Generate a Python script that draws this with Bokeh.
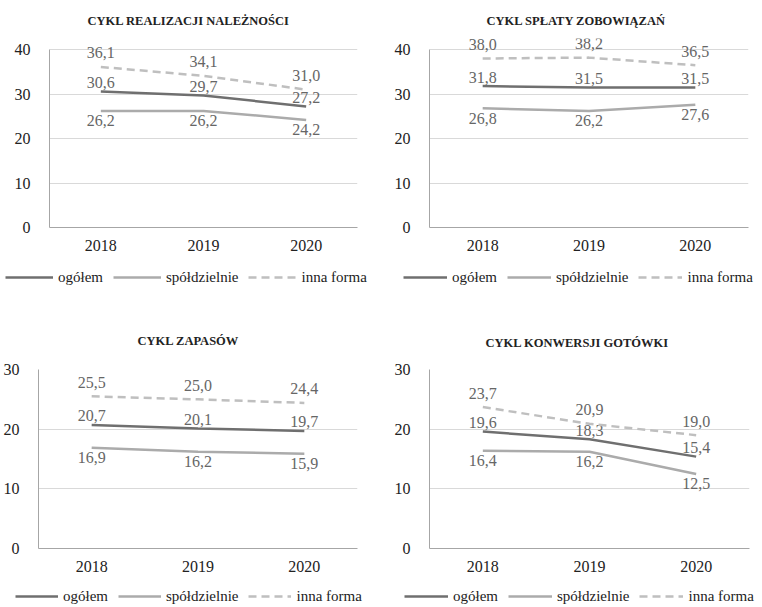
from bokeh.plotting import figure
from bokeh.layouts import column, row
from bokeh.models import FactorRange, Range1d, FixedTicker, Legend, LegendItem, ColumnDataSource
from bokeh.core.properties import value
from bokeh.embed import file_html
from bokeh.resources import INLINE

years = ["2018", "2019", "2020"]
series_names = ["ogółem", "spółdzielnie", "inna forma"]

titles = ["CYKL REALIZACJI NALEŻNOŚCI", "CYKL SPŁATY ZOBOWIĄZAŃ", "CYKL ZAPASÓW", "CYKL KONWERSJI GOTÓWKI"]

realizacja_ogolem = [30.6, 29.7, 27.2]
realizacja_spoldz = [26.2, 26.2, 24.2]
realizacja_inna = [36.1, 34.1, 31.0]

splata_ogolem = [31.8, 31.5, 31.5]
splata_spoldz = [26.8, 26.2, 27.6]
splata_inna = [38.0, 38.2, 36.5]

zapasy_ogolem = [20.7, 20.1, 19.7]
zapasy_spoldz = [16.9, 16.2, 15.9]
zapasy_inna = [25.5, 25.0, 24.4]

konwersja_ogolem = [19.6, 18.3, 15.4]
konwersja_spoldz = [16.4, 16.2, 12.5]
konwersja_inna = [23.7, 20.9, 19.0]

y_ticks_top = [0, 10, 20, 30, 40]
y_ticks_bottom = [0, 10, 20, 30]

FONT = "Liberation Serif"
COLORS = ["#6f6f6f", "#ababab", "#bfbfbf"]
DASHES = ["solid", "solid", "8 5"]
LABEL_OFFSETS = [-9, 10, -14]


def fmt(v):
    return f"{v:.1f}".replace(".", ",")


def make_panel(title, data, ticks, y_end, width, height, left, right, top, bottom,
               title_standoff, title_offset):
    p = figure(x_range=FactorRange(*years, range_padding=0), y_range=Range1d(ticks[0], y_end),
               width=width, height=height, output_backend="svg", toolbar_location=None,
               min_border_left=left, min_border_right=right, min_border_top=top, min_border_bottom=bottom)
    p.title.text = title
    p.title.text_font = FONT
    p.title.text_font_style = "bold"
    p.title.text_font_size = "12.5px"
    p.title.text_color = "#222222"
    p.title.align = "left"
    p.title.offset = title_offset
    p.title.standoff = title_standoff
    p.outline_line_color = None
    p.background_fill_color = "white"
    p.border_fill_color = "white"

    p.yaxis.ticker = FixedTicker(ticks=ticks)
    p.yaxis.bounds = (ticks[0], ticks[-1])
    for ax in (p.xaxis[0], p.yaxis[0]):
        ax.axis_line_color = "#a6a6a6"
        ax.major_tick_line_color = None
        ax.minor_tick_line_color = None
        ax.major_tick_out = 0
        ax.major_tick_in = 0
        ax.minor_tick_out = 0
        ax.major_label_text_font = FONT
        ax.major_label_text_font_size = "16px"
        ax.major_label_text_color = "#222222"
    p.yaxis.major_label_standoff = 19
    p.xaxis.major_label_standoff = 12
    p.xgrid.grid_line_color = None
    p.ygrid.grid_line_color = "#d9d9d9"
    p.ygrid.ticker = FixedTicker(ticks=ticks)

    for i, vals in enumerate(data):
        src = ColumnDataSource(dict(x=years, y=vals, lab=[fmt(v) for v in vals]))
        p.line("x", "y", source=src, line_color=COLORS[i], line_width=2.5,
               line_dash=DASHES[i], line_cap="butt")
        p.text("x", "y", text="lab", source=src, text_font=value(FONT), text_font_size="16px",
               text_color="#666666", text_align="center", text_baseline="middle",
               y_offset=LABEL_OFFSETS[i])
    return p


def make_legend(width, height, x, y, glyph_w):
    lf = figure(width=width, height=height, output_backend="svg", toolbar_location=None,
                x_range=Range1d(0, 1), y_range=Range1d(0, 1), x_axis_type=None, y_axis_type=None,
                min_border_left=0, min_border_right=0, min_border_top=0, min_border_bottom=0)
    lf.outline_line_color = None
    lf.xgrid.grid_line_color = None
    lf.ygrid.grid_line_color = None
    items = []
    for i in range(3):
        r = lf.line(x=[-5, -4], y=[-5, -5], line_color=COLORS[i], line_width=2.5, line_dash=DASHES[i])
        items.append(LegendItem(label=series_names[i], renderers=[r]))
    legend = Legend(items=items, orientation="horizontal", location=(x, y))
    legend.label_text_font = FONT
    legend.label_text_font_size = "15px"
    legend.label_text_color = "#222222"
    legend.glyph_width = glyph_w
    legend.glyph_height = 18
    legend.label_height = 18
    legend.label_standoff = 5
    legend.spacing = 10
    legend.padding = 0
    legend.margin = 0
    legend.border_line_color = None
    legend.background_fill_alpha = 0
    lf.add_layout(legend, "center")
    return lf


p1 = make_panel(titles[0], [realizacja_ogolem, realizacja_spoldz, realizacja_inna], y_ticks_top, 42.5,
                381, 260, 49, 24, 37, 33, 22, 38)
p2 = make_panel(titles[1], [splata_ogolem, splata_spoldz, splata_inna], y_ticks_top, 42.5,
                381, 260, 48, 14, 37, 33, 22, 57)
p3 = make_panel(titles[2], [zapasy_ogolem, zapasy_spoldz, zapasy_inna], y_ticks_bottom, 30,
                381, 286, 36, 24, 77, 30, 43, 99)
p4 = make_panel(titles[3], [konwersja_ogolem, konwersja_spoldz, konwersja_inna], y_ticks_bottom, 30,
                381, 286, 48, 13, 73, 30, 39, 56)

l1 = make_legend(381, 32, 5, 6, 48)
l2 = make_legend(381, 32, 22, 6, 44)
l3 = make_legend(381, 28, 15, 1, 43)
l4 = make_legend(381, 28, 23, 1, 44)

layout = column(row(p1, p2), row(l1, l2), row(p3, p4), row(l3, l4))
open("out.html", "w").write(file_html(layout, INLINE))
